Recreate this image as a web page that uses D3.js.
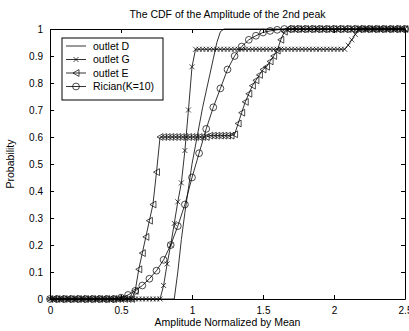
<!DOCTYPE html>
<html>
<head>
<meta charset="utf-8">
<script src="https://cdn.jsdelivr.net/npm/d3@7"></script>
<style>
  html, body { margin: 0; padding: 0; background: #fff; }
  svg { display: block; }
</style>
</head>
<body>
<div id="chart"></div>
<script>
// sampling step of the measured CDFs and of the Rician reference
const outletStep = 0.025;
const ricianStep = 0.05;

// outlet D (plain line)
const outletD = [
  0, 0, 0, 0, 0, 0, 0, 0, 0, 0,
  0, 0, 0, 0, 0, 0, 0, 0, 0, 0,
  0, 0, 0, 0, 0, 0, 0, 0, 0, 0,
  0, 0, 0, 0, 0, 0, 0.1, 0.22, 0.32, 0.41,
  0.5, 0.57, 0.64, 0.71, 0.77, 0.83, 0.89, 0.95, 0.99, 1,
  1, 1, 1, 1, 1, 1, 1, 1, 1, 1,
  1, 1, 1, 1, 1, 1, 1, 1, 1, 1,
  1, 1, 1, 1, 1, 1, 1, 1, 1, 1,
  1, 1, 1, 1, 1, 1, 1, 1, 1, 1,
  1, 1, 1, 1, 1, 1, 1, 1, 1, 1,
  1
];

// outlet G (x markers)
const outletG = [
  0, 0, 0, 0, 0, 0, 0, 0, 0, 0,
  0, 0, 0, 0, 0, 0, 0, 0, 0, 0,
  0, 0, 0, 0, 0, 0, 0, 0, 0, 0,
  0, 0, 0.05, 0.13, 0.2, 0.28, 0.36, 0.43, 0.55, 0.7,
  0.86, 0.925, 0.925, 0.925, 0.925, 0.925, 0.925, 0.925, 0.925, 0.925,
  0.925, 0.925, 0.925, 0.925, 0.925, 0.925, 0.925, 0.925, 0.925, 0.925,
  0.925, 0.925, 0.925, 0.925, 0.925, 0.925, 0.925, 0.925, 0.925, 0.925,
  0.925, 0.925, 0.925, 0.925, 0.925, 0.925, 0.925, 0.925, 0.925, 0.925,
  0.925, 0.925, 0.925, 0.925, 0.94, 0.96, 0.98, 1, 1, 1,
  1, 1, 1, 1, 1, 1, 1, 1, 1, 1,
  1
];

// outlet E (left triangles)
const outletE = [
  0, 0, 0, 0, 0, 0, 0, 0, 0, 0,
  0, 0, 0, 0, 0, 0, 0, 0, 0, 0,
  0, 0, 0, 0, 0.03, 0.11, 0.17, 0.23, 0.29, 0.35,
  0.47, 0.6, 0.6, 0.6, 0.6, 0.6, 0.6, 0.6, 0.6, 0.6,
  0.6, 0.6, 0.6, 0.6, 0.6, 0.605, 0.605, 0.605, 0.605, 0.605,
  0.605, 0.605, 0.61, 0.65, 0.69, 0.73, 0.76, 0.79, 0.81, 0.83,
  0.85, 0.86, 0.88, 0.9, 0.92, 0.96, 0.99, 1, 1, 1,
  1, 1, 1, 1, 1, 1, 1, 1, 1, 1,
  1, 1, 1, 1, 1, 1, 1, 1, 1, 1,
  1, 1, 1, 1, 1, 1, 1, 1, 1, 1,
  1
];

// Rician(K=10) reference (circles)
const rician = [
  0, 0, 0, 0, 0, 0, 0, 0, 0, 0,
  0.005, 0.015, 0.03, 0.05, 0.075, 0.105, 0.145, 0.2, 0.27, 0.35,
  0.45, 0.54, 0.63, 0.71, 0.78, 0.85, 0.9, 0.935, 0.96, 0.975,
  0.987, 0.993, 0.997, 1, 1, 1, 1, 1, 1, 1,
  1, 1, 1, 1, 1, 1, 1, 1, 1, 1,
  1
];

const seriesNames = ["outlet D", "outlet G", "outlet E", "Rician(K=10)"];
const xTicks = [0, 0.5, 1, 1.5, 2, 2.5];
const yTicks = [0, 0.1, 0.2, 0.3, 0.4, 0.5, 0.6, 0.7, 0.8, 0.9, 1];

const width = 409, height = 331;
const margin = { left: 50, right: 4, top: 29, bottom: 32 };
const plotW = width - margin.left - margin.right;
const plotH = height - margin.top - margin.bottom;

const svg = d3.select("#chart")
  .append("svg")
  .attr("width", width)
  .attr("height", height)
  .style("font-family", "Arial, 'Liberation Sans', sans-serif");

const x = d3.scaleLinear().domain([0, 2.5]).range([0, plotW]);
const y = d3.scaleLinear().domain([0, 1]).range([plotH, 0]);

const g = svg.append("g").attr("transform", `translate(${margin.left},${margin.top})`);

// axes with inward ticks (on all four sides)
const fmt = (d) => String(d);
g.append("g")
  .attr("transform", `translate(0,${plotH})`)
  .call(d3.axisBottom(x).tickValues(xTicks).tickFormat(fmt).tickSizeInner(-4).tickSizeOuter(0).tickPadding(8));
g.append("g")
  .call(d3.axisTop(x).tickValues(xTicks).tickFormat("").tickSizeInner(-4).tickSizeOuter(0));
g.append("g")
  .call(d3.axisLeft(y).tickValues(yTicks).tickFormat(fmt).tickSizeInner(-4).tickSizeOuter(0).tickPadding(7));
g.append("g")
  .attr("transform", `translate(${plotW},0)`)
  .call(d3.axisRight(y).tickValues(yTicks).tickFormat("").tickSizeInner(-4).tickSizeOuter(0));

g.selectAll(".domain").attr("stroke", "#000");
g.selectAll(".tick line").attr("stroke", "#000");
g.selectAll(".tick text").attr("font-size", 10).attr("fill", "#000")
  .attr("font-family", "Arial, 'Liberation Sans', sans-serif");

// markers
const markerX = (sel) => {
  sel.append("path").attr("d", "M-2.5,-2.5L2.5,2.5M-2.5,2.5L2.5,-2.5");
};
const markerTri = (sel) => {
  sel.append("path").attr("d", "M-3,0L3,-3.4L3,3.4Z");
};
const markerCirc = (sel) => {
  sel.append("circle").attr("r", 3.4);
};

const series = [
  { name: seriesNames[0], values: outletD, step: outletStep, marker: null },
  { name: seriesNames[1], values: outletG, step: outletStep, marker: markerX },
  { name: seriesNames[2], values: outletE, step: outletStep, marker: markerTri },
  { name: seriesNames[3], values: rician, step: ricianStep, marker: markerCirc }
];

const line = d3.line().x((d) => x(d[0])).y((d) => y(d[1]));

series.forEach((s) => {
  const pts = s.values.map((v, i) => [i * s.step, v]);
  g.append("path")
    .datum(pts)
    .attr("d", line)
    .attr("fill", "none")
    .attr("stroke", "#000")
    .attr("stroke-width", 0.8);
  if (s.marker) {
    g.append("g")
      .attr("fill", "none")
      .attr("stroke", "#000")
      .attr("stroke-width", 0.7)
      .selectAll("g")
      .data(pts)
      .join("g")
      .attr("transform", (d) => `translate(${x(d[0])},${y(d[1])})`)
      .each(function () { s.marker(d3.select(this)); });
  }
});

// legend
const legend = svg.append("g").attr("transform", "translate(62,38)");
legend.append("rect")
  .attr("width", 101).attr("height", 62)
  .attr("fill", "#fff").attr("stroke", "#000").attr("stroke-width", 1);
series.forEach((s, i) => {
  const ly = 8 + i * 13.5;
  const row = legend.append("g").attr("transform", `translate(0,${ly})`);
  row.append("line").attr("x1", 4).attr("x2", 24)
    .attr("stroke", "#000").attr("stroke-width", 0.8);
  if (s.marker) {
    const m = row.append("g").attr("transform", "translate(14,0)")
      .attr("fill", "none").attr("stroke", "#000").attr("stroke-width", 0.7);
    s.marker(m);
  }
  row.append("text").attr("x", 31).attr("y", 3.5)
    .attr("font-size", 10.5).text(s.name);
});

// title and axis labels
svg.append("text")
  .attr("x", margin.left + plotW / 2).attr("y", 18)
  .attr("text-anchor", "middle").attr("font-size", 10.5)
  .text("The CDF of the Amplitude of the 2nd peak");
svg.append("text")
  .attr("x", margin.left + plotW / 2).attr("y", 326)
  .attr("text-anchor", "middle").attr("font-size", 10.5)
  .text("Amplitude Normalized by Mean");
svg.append("text")
  .attr("transform", `translate(14,${margin.top + plotH / 2}) rotate(-90)`)
  .attr("text-anchor", "middle").attr("font-size", 10.5)
  .text("Probability");
</script>
</body>
</html>
